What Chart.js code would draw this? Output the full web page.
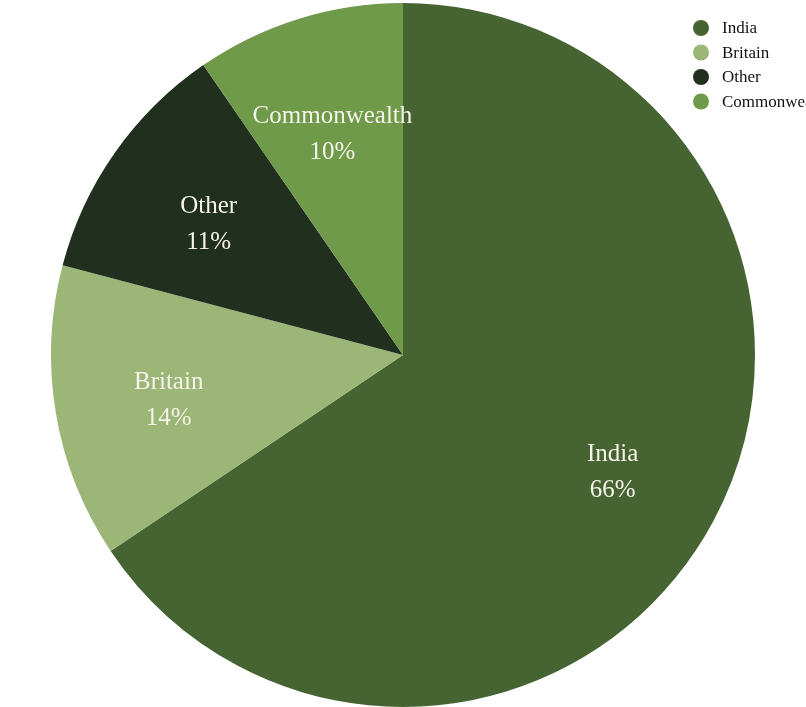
<!DOCTYPE html>
<html>
<head>
<meta charset="utf-8">
<script src="https://cdn.jsdelivr.net/npm/chart.js@4"></script>
<style>
  html, body { margin: 0; padding: 0; background: #fff; overflow: hidden; }
  #wrap { width: 806px; height: 710px; position: relative; }
</style>
</head>
<body>
<div id="wrap"><canvas id="pie"></canvas></div>
<script>
const labels = ['India', 'Britain', 'Other', 'Commonwealth']
const shares = [65.6, 13.5, 11.3, 9.6]
const colors = ['#466432', '#9bb676', '#212f1e', '#6f9a49']

const serif = '"Liberation Serif", "DejaVu Serif", serif'

// labels on slices, at about two thirds of the radius
const sliceLabels = {
    id: 'sliceLabels',
    afterDatasetsDraw(chart) {
        const ctx = chart.ctx
        const meta = chart.getDatasetMeta(0)
        const total = shares.reduce((a, b) => a + b, 0)
        ctx.save()
        ctx.fillStyle = '#f6f3ea'
        ctx.font = '25px ' + serif
        ctx.textAlign = 'center'
        ctx.textBaseline = 'middle'
        meta.data.forEach((arc, i) => {
            const p = arc.getProps(['x', 'y', 'startAngle', 'endAngle', 'outerRadius'], true)
            const mid = (p.startAngle + p.endAngle) / 2
            const r = p.outerRadius * 0.675
            const x = p.x + Math.cos(mid) * r
            const y = p.y + Math.sin(mid) * r + 6
            const pct = Math.round(shares[i] / total * 100) + '%'
            ctx.fillText(labels[i], x, y - 18)
            ctx.fillText(pct, x, y + 18)
        })
        ctx.restore()
    }
}

// legend in the top right corner, runs off the edge like the original
const cornerLegend = {
    id: 'cornerLegend',
    afterDraw(chart) {
        const ctx = chart.ctx
        ctx.save()
        ctx.font = '17px ' + serif
        ctx.textBaseline = 'middle'
        labels.forEach((name, i) => {
            const y = 28 + i * 24.5
            ctx.fillStyle = colors[i]
            ctx.beginPath()
            ctx.arc(701, y, 8, 0, Math.PI * 2)
            ctx.fill()
            ctx.fillStyle = '#111'
            ctx.fillText(name, 722, y + 1)
        })
        ctx.restore()
    }
}

new Chart(document.getElementById('pie'), {
    type: 'pie',
    data: {
        labels: labels,
        datasets: [{
            data: shares,
            backgroundColor: colors,
            borderWidth: 0
        }]
    },
    options: {
        responsive: true,
        maintainAspectRatio: false,
        animation: false,
        layout: { padding: { top: 3, bottom: 3 } },
        plugins: {
            legend: { display: false },
            tooltip: { enabled: false }
        }
    },
    plugins: [sliceLabels, cornerLegend]
})
</script>
</body>
</html>
